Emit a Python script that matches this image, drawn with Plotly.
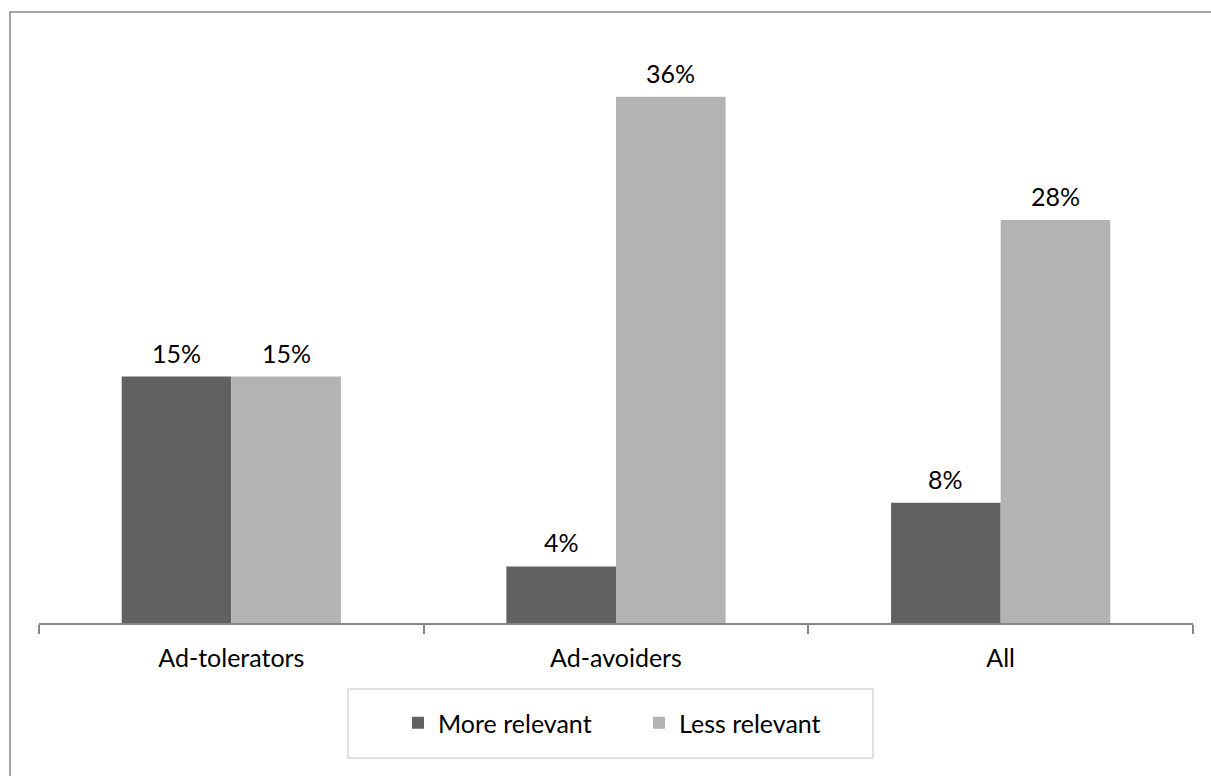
import plotly.graph_objects as go

categories = ["Ad-tolerators", "Ad-avoiders", "All"]
more_relevant = [17.0, 3.9, 8.3]
less_relevant = [17.0, 36.3, 27.8]
more_labels = ["15%", "4%", "8%"]
less_labels = ["15%", "36%", "28%"]
series_names = ["More relevant", "Less relevant"]

DARK = "#616161"
LIGHT = "#b3b3b3"
FONT = "Lato"
FS = 25
BARGAP = 0.43

fig = go.Figure()
fig.add_trace(go.Bar(
    x=categories, y=more_relevant, name=series_names[0],
    marker=dict(color=DARK, line=dict(width=0)),
    hoverinfo="skip",
))
fig.add_trace(go.Bar(
    x=categories, y=less_relevant, name=series_names[1],
    marker=dict(color=LIGHT, line=dict(width=0)),
    hoverinfo="skip",
))

# value labels placed above each bar, in data coordinates
half = (1 - BARGAP) / 4.0
for i in range(len(categories)):
    for vals, labs, sgn in ((more_relevant, more_labels, -1), (less_relevant, less_labels, 1)):
        fig.add_annotation(
            x=i + sgn * half, y=vals[i], xref="x", yref="y",
            text=labs[i], showarrow=False, yanchor="middle", xanchor="center",
            yshift=24, font=dict(family=FONT, size=FS, color="#000000"),
        )

# plot area in pixels: x 39..1193, y 43..623
W, H = 1211, 776
L, R, T, B = 39, 18, 43, 153
pw = W - L - R
ph = H - T - B

def px_x(p):
    return (p - L) / pw

def px_y(p):
    return (H - B - p) / ph

fig.update_layout(
    width=W, height=H,
    margin=dict(l=L, r=R, t=T, b=B, pad=0),
    paper_bgcolor="white", plot_bgcolor="white",
    barmode="group", bargap=BARGAP, bargroupgap=0,
    font=dict(family=FONT, size=FS, color="#000000"),
    showlegend=True,
    legend=dict(
        orientation="h", x=px_x(639), xanchor="center",
        y=px_y(723), yanchor="middle",
        bgcolor="rgba(0,0,0,0)", borderwidth=0,
        font=dict(family=FONT, size=FS, color="#000000"),
        entrywidth=196, entrywidthmode="pixels",
        itemclick=False, itemdoubleclick=False,
    ),
    xaxis=dict(
        type="category", range=[-0.5, 2.5],
        showline=True, linecolor="#868686", linewidth=1.5,
        ticks="outside", tickson="boundaries", ticklen=9,
        tickcolor="#868686", tickwidth=1.5,
        ticklabelstandoff=12,
        showgrid=False, zeroline=False,
        tickfont=dict(family=FONT, size=FS, color="#000000"),
        fixedrange=True,
    ),
    yaxis=dict(
        range=[0, 40], visible=False, showgrid=False, zeroline=False,
        fixedrange=True,
    ),
    shapes=[
        # legend frame
        dict(type="rect", xref="paper", yref="paper",
             x0=px_x(348), x1=px_x(873), y0=px_y(758), y1=px_y(689),
             line=dict(color="#d9d9d9", width=1.5), fillcolor="rgba(0,0,0,0)",
             layer="below"),
        # outer chart frame
        dict(type="rect", xref="paper", yref="paper",
             x0=px_x(10), x1=px_x(1230), y0=px_y(800), y1=px_y(12),
             line=dict(color="#868686", width=1.5), fillcolor="rgba(0,0,0,0)",
             layer="below"),
    ],
)

fig.write_html("out.html", config={"displayModeBar": False})
